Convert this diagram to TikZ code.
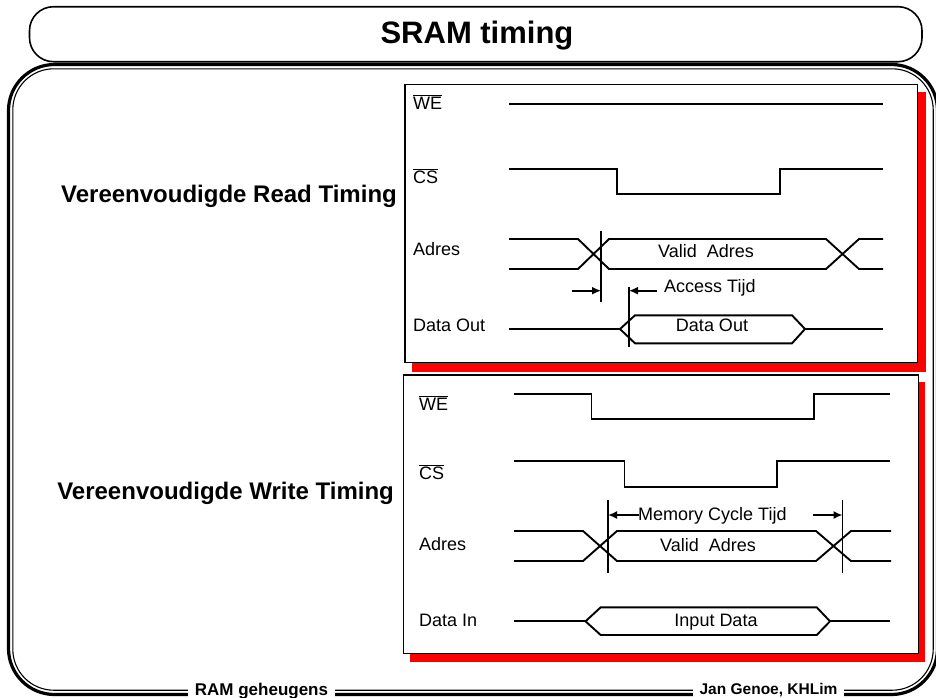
\documentclass[tikz,border=0pt]{standalone}
\usepackage{fontspec}
\setmainfont{Liberation Sans}
\usetikzlibrary{arrows.meta}
\begin{document}
\begin{tikzpicture}[x=1pt,y=-1pt,
  sig/.style={line width=1.9pt, line join=miter},
  lbl/.style={inner sep=0pt, anchor=base west, font=\fontsize{18}{20}\selectfont},
  ctxt/.style={inner sep=0pt, anchor=base, font=\fontsize{18}{20}\selectfont},
  tbox/.style={draw, line width=1.3pt, fill=white},
  shadowbox/.style={fill=red},
  dimarrow/.style={line width=1.6pt, -{Latex[length=9pt,width=8pt]}},
  side/.style={inner sep=0pt, anchor=base east, font=\bfseries\fontsize{24}{28}\selectfont},
  foot/.style={fill=white, inner xsep=7pt, inner ysep=1pt, anchor=base, font=\bfseries\fontsize{17}{20}\selectfont},
]
\useasboundingbox (0,0) rectangle (936,697);
\fill[white] (0,0) rectangle (936,697);

% title
\draw[line width=1.6pt, rounded corners=24pt] (29.5,6.7) rectangle (922,61.7);
\node[font=\bfseries\fontsize{31}{36}\selectfont, anchor=base, inner sep=0pt] (title) at (477,43.5) {SRAM timing};

% main frame (double line)
\draw[line width=3.2pt, rounded corners=46pt] (8.5,64.5) rectangle (937.5,694.5);
\draw[line width=1.1pt, rounded corners=41pt] (12.8,68.8) rectangle (933.2,690.2);

% footer
\node[foot] (f1) at (261.5,695) {RAM geheugens};
\node[foot, font=\bfseries\fontsize{15.5}{18}\selectfont] (f2) at (768.5,694.5) {Jan Genoe, KHLim};

% side labels
\node[side] (readlbl) at (397,202.3) {Vereenvoudigde Read Timing};
\node[side] (writelbl) at (394,499) {Vereenvoudigde Write Timing};

% ---------------- read box
\fill[shadowbox] (412,91.7) rectangle (926,371.7);
\draw[tbox] (405,84.7) rectangle (917.3,362.7);

\node[lbl] (rwe) at (413,109.3) {$\overline{\hbox{WE}}$};
\node[lbl] (rcs) at (413,183.3) {$\overline{\hbox{CS}}$};
\node[lbl] (radr) at (413,255) {Adres};
\node[lbl] (rdo) at (413,331.7) {Data Out};

\draw[sig] (509,104) -- (883,104);
\draw[sig] (509,169) -- (617,169) -- (617,194.3) -- (780,194.3) -- (780,169) -- (883,169);
\draw[sig] (509,239) -- (578,239) -- (609,269) -- (826,269) -- (859,239) -- (883,239);
\draw[sig] (509,269) -- (578,269) -- (609,239) -- (826,239) -- (859,269) -- (883,269);
\node[ctxt] (rvalid) at (706,257.3) {Valid\ \ Adres};

\draw[sig] (509,329) -- (620,329);
\draw[sig] (620,329) -- (635,315.3) -- (792,315.3) -- (805,329) -- (792,343.3) -- (635,343.3) -- cycle;
\draw[sig] (805,329) -- (883,329);
\node[ctxt] (rdata) at (712,331.7) {Data Out};

\coordinate (v1t) at (601,231); \coordinate (v1b) at (601,301.7);
\coordinate (v2t) at (629,286.7); \coordinate (v2b) at (629,346.7);
\draw[sig] (v1t) -- (v1b);
\draw[sig] (v2t) -- (v2b);
\coordinate (a1s) at (572,290.7);
\coordinate (a2s) at (657,290.7);
\draw[dimarrow] (a1s) -- (a1s -| v1t);
\draw[dimarrow] (a2s) -- (a2s -| v2t);
\node[lbl] (acc) at (664,292.3) {Access Tijd};

% ---------------- write box
\fill[shadowbox] (410,381.7) rectangle (925,661.7);
\draw[tbox] (403.3,375) rectangle (918.7,653.3);

\node[lbl] (wwe) at (419,410) {$\overline{\hbox{WE}}$};
\node[lbl] (wcs) at (419,479.3) {$\overline{\hbox{CS}}$};
\node[lbl] (wadr) at (419,550) {Adres};
\node[lbl] (wdi) at (419,626.7) {Data In};

\draw[sig] (514,394) -- (591.5,394) -- (591.5,419) -- (814,419) -- (814,394) -- (890,394);
\draw[sig] (514,461) -- (624.5,461) -- (624.5,486.7) -- (777,486.7) -- (777,461) -- (890,461);
\draw[sig] (514,531) -- (583,531) -- (617,561) -- (816,561) -- (851,531) -- (891,531);
\draw[sig] (514,561) -- (583,561) -- (617,531) -- (816,531) -- (851,561) -- (891,561);
\node[ctxt] (wvalid) at (708,551.7) {Valid\ \ Adres};

\coordinate (v3t) at (608,500); \coordinate (v3b) at (608,572.7);
\coordinate (v4t) at (842.5,500); \coordinate (v4b) at (842.5,572.7);
\draw[sig] (v3t) -- (v3b);
\draw[sig] (v4t) -- (v4b);
\node[lbl] (mem) at (638,520) {Memory Cycle Tijd};
\coordinate (a3s) at (639,515);
\coordinate (a4s) at (813,515);
\draw[dimarrow] (a3s) -- (a3s -| v3t);
\draw[dimarrow] (a4s) -- (a4s -| v4t);

\draw[sig] (514,621.3) -- (585.5,621.3);
\draw[sig] (585.5,621.3) -- (600.7,607.3) -- (816.7,607.3) -- (830,621.3) -- (816.7,635) -- (600.7,635) -- cycle;
\draw[sig] (830,621.3) -- (890,621.3);
\node[ctxt] (wdata) at (716,626.7) {Input Data};
\end{tikzpicture}
\end{document}
